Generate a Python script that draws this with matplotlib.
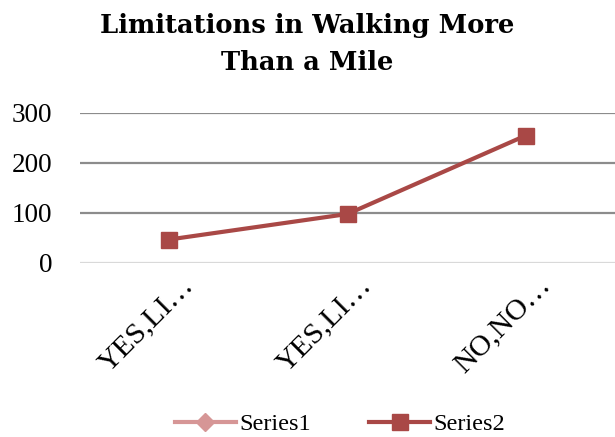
import matplotlib
matplotlib.use("Agg")
import matplotlib.pyplot as plt
import matplotlib.transforms as mtransforms
import numpy as np

categories = ["YES,LI…", "YES,LI…", "NO,NO…"]
series1 = [np.nan, np.nan, np.nan]
series2 = [47, 98, 255]
yticks = [0, 100, 200, 300]
title = "Limitations in Walking More\nThan a Mile"

plt.rcParams['font.family'] = ['Liberation Serif', 'DejaVu Serif']

fig = plt.figure(figsize=(6.15, 4.37), dpi=100)
ax = fig.add_axes([80/615, 1-263/437, 1-80/615, 150/437])
x = np.arange(len(categories))

ax.plot(x, series1, color='#D69696', lw=3, marker='D', ms=9, label='Series1')
ax.plot(x, series2, color='#A94846', lw=3, marker='s', ms=12, label='Series2')

ax.set_xlim(-0.5, len(categories)-0.5)
ax.set_ylim(0, 300)
ax.set_yticks(yticks)
ax.set_yticklabels([str(v) for v in yticks], fontsize=19.5)
for v in yticks:
    ax.axhline(v, color='#d9d9d9' if v == 0 else '#8c8c8c', lw=1.6, zorder=0)
ax.set_xticks(x)
ax.set_xticklabels([])
offset = mtransforms.ScaledTranslation(11/100, -9/100, fig.dpi_scale_trans)
trans = ax.get_xaxis_transform() + offset
for xi, cat in zip(x, categories):
    ax.text(xi, 0, cat, transform=trans, rotation=45, ha='right', va='top',
            rotation_mode='anchor', fontsize=21.5, clip_on=False)
ax.tick_params(axis='both', length=0)
ax.tick_params(axis='y', pad=20)
for s in ax.spines.values():
    s.set_visible(False)

fig.text(0.5, 1-44/437, title, ha='center', va='center', fontsize=18.5, fontweight='bold',
         linespacing=1.6, family=['DejaVu Serif'])

fig.legend(loc='center', bbox_to_anchor=(0.553, 1-424/437), ncol=2, frameon=False,
           fontsize=17.5, handlelength=2.5, columnspacing=2.4, handletextpad=0.15)

fig.savefig("out.png", dpi=100)
